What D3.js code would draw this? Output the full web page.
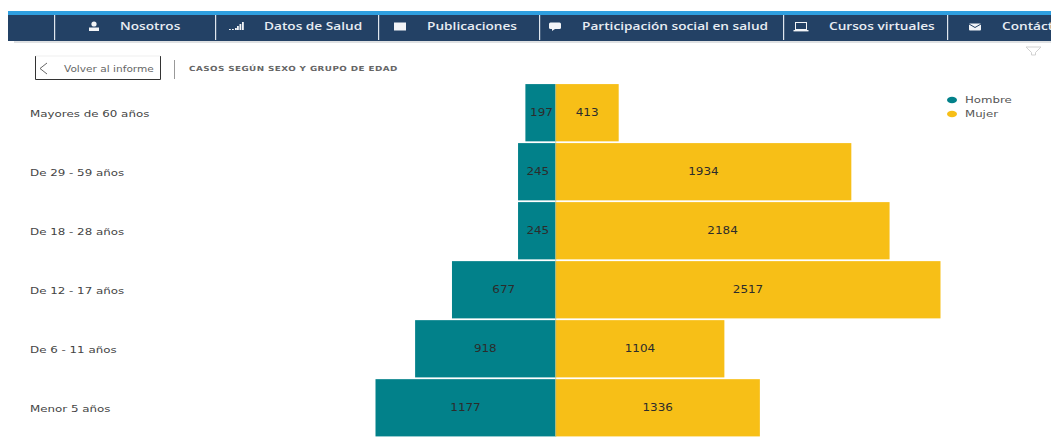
<!DOCTYPE html>
<html><head><meta charset="utf-8">
<script src="https://cdn.jsdelivr.net/npm/d3@7/dist/d3.min.js"></script>
<style>html,body{margin:0;padding:0;background:#fff}svg{display:block}text{font-family:"DejaVu Sans",sans-serif}</style>
</head><body><svg id="c" width="1051" height="448"></svg>
<script>
const categories=["Mayores de 60 años","De 29 - 59 años","De 18 - 28 años","De 12 - 17 años","De 6 - 11 años","Menor 5 años"];
const hombre=[197,245,245,677,918,1177];
const mujer=[413,1934,2184,2517,1104,1336];
const navItems=["Nosotros","Datos de Salud","Publicaciones","Participación social en salud","Cursos virtuales","Contácto"];
const navText=[120,264,427,582,829,1002];
const navSeps=[54,215,378,539,783,947];
const navIcons=["user","bars","book","chat","laptop","mail"];
const navIconX=[94,236,400,555,801,975];
const seriesNames=["Hombre","Mujer"];
const colors=["#02818a","#f7bf17"];

const svg=d3.select("#c");
const st=(x,y,s)=>`translate(${x},${y}) scale(${s},1)`;
// nav
svg.append("rect").attr("x",8).attr("y",11).attr("width",1043).attr("height",4).attr("fill","#2f9fe0");
svg.append("rect").attr("x",8).attr("y",15).attr("width",1043).attr("height",26).attr("fill","#234165");
svg.append("rect").attr("x",14).attr("y",41).attr("width",1037).attr("height",2).attr("fill","#dfe1e3");
svg.selectAll(".sep").data(navSeps).join("rect").attr("x",d=>d).attr("y",15).attr("width",1.2).attr("height",25).attr("fill","#dfe6ee");
svg.selectAll(".nav").data(navItems).join("text").attr("transform",(d,i)=>st(navText[i],30,1.22))
  .attr("font-size",11.2).attr("fill","#e8edf3").attr("style",'font-family:"Open Sans",sans-serif;font-weight:600').text(d=>d);
const icon=svg.selectAll(".ic").data(navIcons).join("g").attr("transform",(d,i)=>`translate(${navIconX[i]},26)`).attr("fill","#f2f4f7");
icon.each(function(d){
  const g=d3.select(this);
  if(d==="user"){g.append("circle").attr("r",2.6).attr("cy",-2);g.append("rect").attr("x",-5).attr("y",1.5).attr("width",10).attr("height",3.5);}
  if(d==="bars"){[[-7,1],[-4,1],[-1,2],[1,4],[3.5,6],[6,8]].forEach(b=>g.append("rect").attr("x",b[0]).attr("y",4-b[1]).attr("width",1.8).attr("height",b[1]));}
  if(d==="book"){g.append("rect").attr("x",-6).attr("y",-3.5).attr("width",12).attr("height",8);}
  if(d==="chat"){g.append("rect").attr("x",-6).attr("y",-3.5).attr("width",12).attr("height",6.5).attr("rx",1.5);g.append("path").attr("d","M-3 3L-3 5L0 3Z");}
  if(d==="laptop"){g.append("rect").attr("x",-5.5).attr("y",-3.5).attr("width",11).attr("height",7).attr("fill","none").attr("stroke","#f2f4f7");g.append("rect").attr("x",-7.5).attr("y",4).attr("width",15).attr("height",1.4);}
  if(d==="mail"){g.append("rect").attr("x",-6).attr("y",-2.5).attr("width",12).attr("height",7).attr("rx",1);g.append("path").attr("d","M-6 -2L0 1.5L6 -2").attr("fill","none").attr("stroke","#234165");}
});
// back button
svg.append("path").attr("d","M35.5 56V79.5H160.5V56").attr("fill","none").attr("stroke","#333").attr("stroke-width",1);
svg.append("path").attr("d","M35.5 56H160.5").attr("fill","none").attr("stroke","#e4e4e4").attr("stroke-width",.6);
svg.append("path").attr("d","M47 63L40 68.5L47 74").attr("fill","none").attr("stroke","#555").attr("stroke-width",.9);
svg.append("text").attr("transform",st(64,71.5,1.29)).attr("font-size",8.2).attr("fill","#666").text("Volver al informe");
svg.append("rect").attr("x",174).attr("y",60).attr("width",1).attr("height",19).attr("fill","#999");
svg.append("text").attr("transform",st(189,71,1.26)).attr("font-size",7).attr("font-weight","bold").attr("letter-spacing",.35).attr("fill","#666").text("CASOS SEGÚN SEXO Y GRUPO DE EDAD");
svg.append("path").attr("d","M1026 47H1041L1035.5 52.5V55H1031.5V52.5Z").attr("fill","none").attr("stroke","#ccc").attr("stroke-width",.9);

// chart
const y=d3.scaleBand().domain(categories).range([83.5,437]).paddingInner(0.03).paddingOuter(0.01);
const x=d3.scaleLinear().domain([-1177,2517]).range([375.5,940.5]);
const rows=categories.map((c,i)=>({c,h:hombre[i],m:mujer[i]}));
const series=[{k:"h",idx:0},{k:"m",idx:1}];
series.forEach(s=>{
  const sign=s.k==="h"?-1:1;
  svg.selectAll(".b"+s.k).data(rows).join("rect")
    .attr("x",d=>Math.min(x(0),x(sign*d[s.k]))).attr("y",d=>y(d.c))
    .attr("width",d=>Math.abs(x(sign*d[s.k])-x(0))).attr("height",y.bandwidth())
    .attr("fill",colors[s.idx]);
  svg.selectAll(".l"+s.k).data(rows).join("text")
    .attr("transform",d=>st((x(0)+x(sign*d[s.k]))/2+(s.k==="h"&&d.h<300?1:0),y(d.c)+y.bandwidth()/2+3,1.22))
    .attr("text-anchor","middle").attr("font-size",9.8).attr("fill","#2c2c2c").text(d=>d[s.k]);
});
svg.append("rect").attr("x",x(0)-0.3).attr("y",84).attr("width",1).attr("height",353).attr("fill","#8fb7a0").attr("opacity",.5);
// category axis
const axis=d3.axisLeft(y).tickSize(0);
const ax=svg.append("g").attr("transform","translate(30,1)").call(axis);
ax.select(".domain").remove();
ax.selectAll("text").attr("x",0).attr("text-anchor","start").attr("font-size",8.6).attr("fill","#444").attr("dy","0.42em").attr("transform","scale(1.38,1)").style("font-family",'"DejaVu Sans",sans-serif');
// legend
const lg=svg.selectAll(".lg").data(seriesNames).join("g").attr("transform",(d,i)=>`translate(952,${100+i*14})`);
lg.append("ellipse").attr("rx",5).attr("ry",3.2).attr("fill",(d,i)=>colors[i]);
lg.append("text").attr("transform",st(13,3,1.34)).attr("font-size",8.8).attr("fill","#555").text(d=>d);
</script></body></html>
